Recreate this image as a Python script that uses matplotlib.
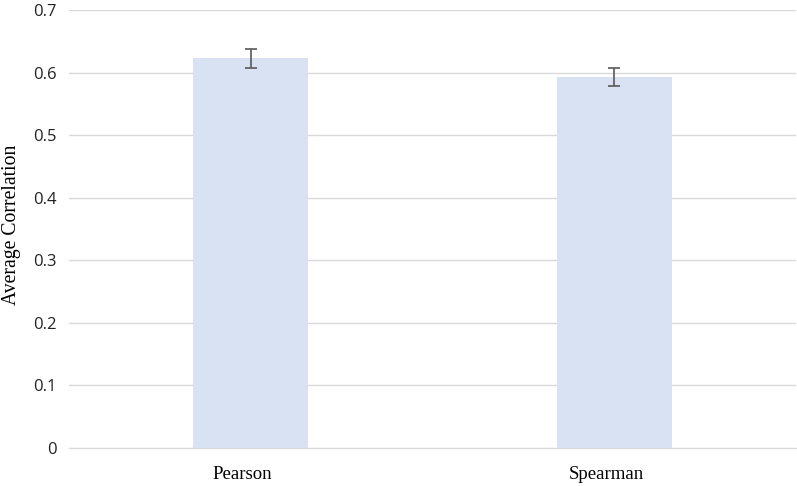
import matplotlib
matplotlib.use("Agg")
import matplotlib.pyplot as plt
import matplotlib.transforms as mtransforms

categories = ["Pearson", "Spearman"]
values = [0.623, 0.593]
errors = [0.015, 0.015]
yticks = [0, 0.1, 0.2, 0.3, 0.4, 0.5, 0.6, 0.7]
ytick_labels = ["0", "0.1", "0.2", "0.3", "0.4", "0.5", "0.6", "0.7"]

fig = plt.figure(figsize=(7.97, 4.86), dpi=100)
ax = fig.add_axes([69/797, 38/486, 727/797, 438/486])

x = list(range(len(categories)))
ax.bar(x, values, width=0.315, color="#D9E2F3", zorder=2)
ax.errorbar(x, values, yerr=errors, fmt="none", ecolor="#595959",
            elinewidth=1.2, capsize=4.5, capthick=1.2, zorder=3)

ax.set_xlim(-0.5, 1.5)
ax.set_ylim(0, 0.7)
ax.set_yticks(yticks)
ax.set_yticklabels(ytick_labels, family="Open Sans", fontsize=12, color="#222222")
ax.set_xticks(x)
ax.set_xticklabels([])
offset = mtransforms.ScaledTranslation(-8/100, 0, fig.dpi_scale_trans)
for xi, name in zip(x, categories):
    ax.text(xi, -0.0708, name, transform=ax.get_xaxis_transform() + offset,
            ha="center", va="baseline", family="Liberation Serif", fontsize=13.5)
ax.set_ylabel("Average Correlation", family="Liberation Serif", fontsize=14.2)
ax.yaxis.set_label_coords(-0.066, 0.509)

ax.grid(axis="y", color="#D9D9D9", linewidth=1.0, zorder=0)
for s in ["top", "right", "left"]:
    ax.spines[s].set_visible(False)
ax.spines["bottom"].set_color("#D9D9D9")
ax.tick_params(axis="both", length=0)
ax.tick_params(axis="y", pad=9)

fig.savefig("out.png", dpi=100)
